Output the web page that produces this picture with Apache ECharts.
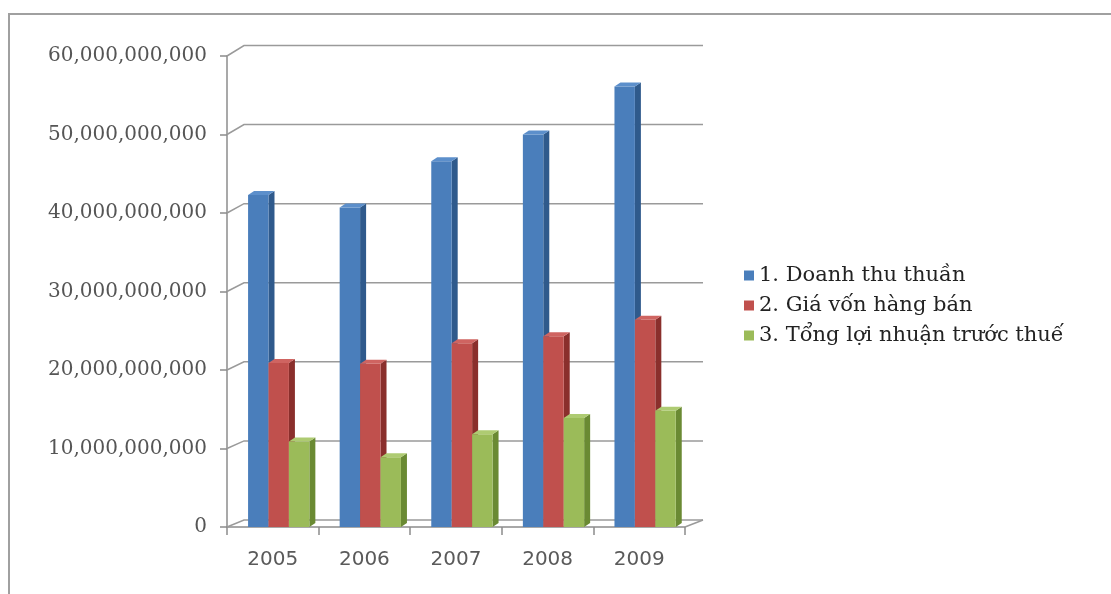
<!DOCTYPE html>
<html>
<head>
<meta charset="utf-8">
<script src="https://cdn.jsdelivr.net/npm/echarts@6/dist/echarts.min.js"></script>
<style>html,body{margin:0;padding:0;background:#fff;}#c{width:1111px;height:594px;}</style>
</head>
<body>
<div id="c"></div>
<script>
const categories = ['2005', '2006', '2007', '2008', '2009'];
const seriesNames = ['1. Doanh thu thuần', '2. Giá vốn hàng bán', '3. Tổng lợi nhuận trước thuế'];
const doanhThu = [42300000000, 40700000000, 46600000000, 50000000000, 56100000000];
const giaVon = [20900000000, 20800000000, 23400000000, 24300000000, 26400000000];
const loiNhuan = [10900000000, 8900000000, 11800000000, 13900000000, 14800000000];
const yTicks = [0, 10000000000, 20000000000, 30000000000, 40000000000, 50000000000, 60000000000];

const faceColors = [
  { front: '#4A7EBB', side: '#2F5A8C', top: '#5C8FCB' },
  { front: '#C0504D', side: '#8A2F2C', top: '#CF6461' },
  { front: '#9BBB59', side: '#6A8A33', top: '#AECB72' }
];
const DEPTH_X = 6, DEPTH_Y = 4;
const WALL_DX = 17;

function makeBarRenderer(s) {
  return function (params, api) {
    const ci = api.value(0);
    const v = api.value(1);
    const band = api.size([1, 0])[0];
    const topPt = api.coord([ci, v]);
    const basePt = api.coord([ci, 0]);
    const w = band * 0.223;
    const x = topPt[0] - band * 0.27 + s * w;
    const yTop = topPt[1];
    const yBot = basePt[1];
    const c = faceColors[s];
    return {
      type: 'group',
      children: [
        { type: 'polygon', shape: { points: [[x + w, yTop], [x + w + DEPTH_X, yTop - DEPTH_Y], [x + w + DEPTH_X, yBot - DEPTH_Y], [x + w, yBot]] }, style: { fill: c.side } },
        { type: 'rect', shape: { x: x, y: yTop, width: w, height: yBot - yTop }, style: { fill: c.front } },
        { type: 'polygon', shape: { points: [[x, yTop], [x + DEPTH_X, yTop - DEPTH_Y], [x + w + DEPTH_X, yTop - DEPTH_Y], [x + w, yTop]] }, style: { fill: c.top } }
      ]
    };
  };
}

function renderWall(params, api) {
  const v = api.value(1);
  const y = api.coord([0, v])[1];
  const yBase = api.coord([0, 0])[1];
  const cs = params.coordSys;
  const x0 = cs.x, x1 = cs.x + cs.width;
  // perspective: back offset grows slightly toward the top
  const dy = 7 + 3.5 * (yBase - y) / cs.height;
  const children = [
    { type: 'polyline', shape: { points: [[x0, y], [x0 + WALL_DX, y - dy], [x1 + WALL_DX + 1, y - dy]] }, style: { stroke: '#9a9a9a', lineWidth: 1.5, fill: null } }
  ];
  if (v === 0) {
    children.push({ type: 'line', shape: { x1: x1, y1: y, x2: x1 + WALL_DX + 1, y2: y - dy }, style: { stroke: '#9a9a9a', lineWidth: 1.5 } });
  }
  return { type: 'group', children: children };
}

function fmt(v) {
  return String(v).replace(/\B(?=(\d{3})+(?!\d))/g, ',');
}

const seriesData = [doanhThu, giaVon, loiNhuan];

const chart = echarts.init(document.getElementById('c'), null, { renderer: 'canvas' });
chart.setOption({
  backgroundColor: '#ffffff',
  animation: false,
  graphic: [
    { type: 'rect', shape: { x: 9, y: 14, width: 1200, height: 700 }, style: { fill: null, stroke: '#a0a0a0', lineWidth: 2 }, silent: true }
  ],
  legend: {
    orient: 'vertical',
    left: 739,
    top: 260,
    itemWidth: 10,
    itemHeight: 10,
    itemGap: 9,
    icon: 'rect',
    data: seriesNames,
    textStyle: { fontFamily: 'DejaVu Serif', fontSize: 21, color: '#222', lineHeight: 21 }
  },
  grid: { left: 227, right: 426, top: 56, bottom: 67, containLabel: false },
  xAxis: {
    type: 'category',
    data: categories,
    boundaryGap: true,
    axisLine: { show: true, lineStyle: { color: '#8c8c8c', width: 1.5 } },
    axisTick: { show: true, length: 8, lineStyle: { color: '#8c8c8c', width: 1.5 } },
    axisLabel: { margin: 23, fontFamily: 'DejaVu Sans', fontSize: 20, color: '#5a5a5a' },
    splitLine: { show: false }
  },
  yAxis: {
    type: 'value',
    min: 0,
    max: 60000000000,
    interval: 10000000000,
    axisLine: { show: true, lineStyle: { color: '#8c8c8c', width: 1.5 } },
    axisTick: { show: true, length: 7, lineStyle: { color: '#8c8c8c', width: 1.5 } },
    axisLabel: { margin: 20, fontFamily: 'DejaVu Serif', fontSize: 20, color: '#555', formatter: fmt },
    splitLine: { show: false }
  },
  series: [
    {
      type: 'custom', name: 'wall', silent: true, z: 1,
      renderItem: renderWall,
      data: yTicks.map(function (v) { return [0, v]; }),
      tooltip: { show: false }
    }
  ].concat(seriesNames.map(function (name, s) {
    return {
      type: 'custom',
      name: name,
      z: 3 + s,
      itemStyle: { color: faceColors[s].front },
      renderItem: makeBarRenderer(s),
      encode: { x: 0, y: 1 },
      data: seriesData[s].map(function (v, i) { return [i, v]; })
    };
  }))
});
</script>
</body>
</html>
